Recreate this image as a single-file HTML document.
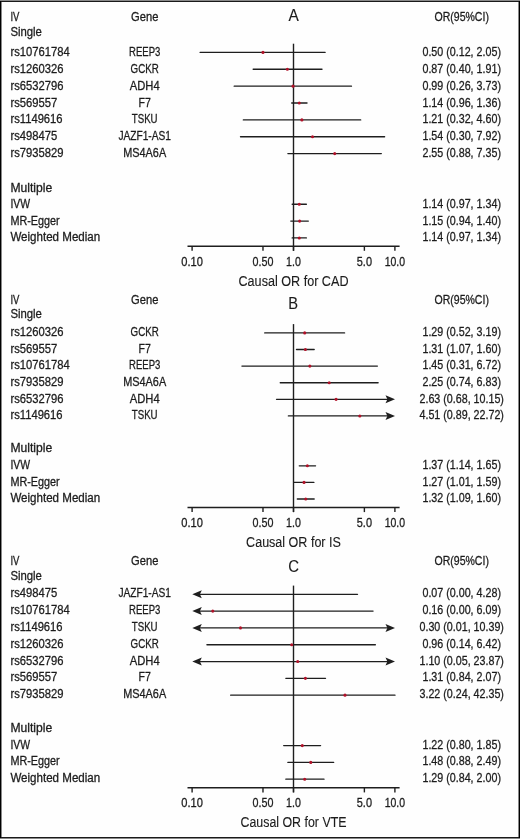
<!DOCTYPE html>
<html><head><meta charset="utf-8"><style>
html,body{margin:0;padding:0;background:#fff;}
body{width:520px;height:839px;overflow:hidden;}
svg{display:block;will-change:transform;}
svg text{font-family:"Liberation Sans",sans-serif;font-size:12.0px;stroke:#1c1c1c;stroke-width:0.28px;}
</style></head><body>
<svg width="520" height="839" viewBox="0 0 520 839">
<rect width="520" height="839" fill="#fefefe"/>
<text x="10.40" y="21.10" textLength="9.00" lengthAdjust="spacingAndGlyphs" fill="#1c1c1c">IV</text>
<text x="10.40" y="35.50" textLength="31.50" lengthAdjust="spacingAndGlyphs" fill="#1c1c1c">Single</text>
<text x="144.70" y="20.90" text-anchor="middle" textLength="27.30" lengthAdjust="spacingAndGlyphs" fill="#1c1c1c">Gene</text>
<text x="293.70" y="21.20" text-anchor="middle" style="font-size:17.0px;stroke-width:0.12px" textLength="10.30" lengthAdjust="spacingAndGlyphs" fill="#1c1c1c">A</text>
<text x="461.70" y="21.40" text-anchor="middle" textLength="54.40" lengthAdjust="spacingAndGlyphs" fill="#1c1c1c">OR(95%CI)</text>
<line x1="293.5" y1="43.70" x2="293.5" y2="250.80" stroke="#1e1e1e" stroke-width="1.4"/>
<text x="10.40" y="55.90" textLength="59.29" lengthAdjust="spacingAndGlyphs" fill="#1c1c1c">rs10761784</text>
<text x="144.70" y="55.90" text-anchor="middle" textLength="31.30" lengthAdjust="spacingAndGlyphs" fill="#1c1c1c">REEP3</text>
<text x="461.70" y="55.90" text-anchor="middle" textLength="78.49" lengthAdjust="spacingAndGlyphs" fill="#1c1c1c">0.50 (0.12, 2.05)</text>
<line x1="200.13" y1="52.40" x2="325.11" y2="52.40" stroke="#1e1e1e" stroke-width="1.3" stroke-linecap="round"/>
<circle cx="262.98" cy="52.40" r="1.55" fill="#b01229"/>
<text x="10.40" y="72.77" textLength="53.04" lengthAdjust="spacingAndGlyphs" fill="#1c1c1c">rs1260326</text>
<text x="144.70" y="72.77" text-anchor="middle" textLength="28.20" lengthAdjust="spacingAndGlyphs" fill="#1c1c1c">GCKR</text>
<text x="461.70" y="72.77" text-anchor="middle" textLength="78.49" lengthAdjust="spacingAndGlyphs" fill="#1c1c1c">0.87 (0.40, 1.91)</text>
<line x1="253.15" y1="69.27" x2="322.00" y2="69.27" stroke="#1e1e1e" stroke-width="1.3" stroke-linecap="round"/>
<circle cx="287.37" cy="69.27" r="1.55" fill="#b01229"/>
<text x="10.40" y="89.64" textLength="53.04" lengthAdjust="spacingAndGlyphs" fill="#1c1c1c">rs6532796</text>
<text x="144.70" y="89.64" text-anchor="middle" textLength="29.90" lengthAdjust="spacingAndGlyphs" fill="#1c1c1c">ADH4</text>
<text x="461.70" y="89.64" text-anchor="middle" textLength="78.49" lengthAdjust="spacingAndGlyphs" fill="#1c1c1c">0.99 (0.26, 3.73)</text>
<line x1="234.18" y1="86.14" x2="351.47" y2="86.14" stroke="#1e1e1e" stroke-width="1.3" stroke-linecap="round"/>
<circle cx="293.06" cy="86.14" r="1.55" fill="#b01229"/>
<text x="10.40" y="106.51" textLength="46.80" lengthAdjust="spacingAndGlyphs" fill="#1c1c1c">rs569557</text>
<text x="144.70" y="106.51" text-anchor="middle" textLength="12.30" lengthAdjust="spacingAndGlyphs" fill="#1c1c1c">F7</text>
<text x="461.70" y="106.51" text-anchor="middle" textLength="78.49" lengthAdjust="spacingAndGlyphs" fill="#1c1c1c">1.14 (0.96, 1.36)</text>
<line x1="291.70" y1="103.01" x2="307.04" y2="103.01" stroke="#1e1e1e" stroke-width="1.3" stroke-linecap="round"/>
<circle cx="299.27" cy="103.01" r="1.55" fill="#b01229"/>
<text x="10.40" y="123.38" textLength="52.21" lengthAdjust="spacingAndGlyphs" fill="#1c1c1c">rs1149616</text>
<text x="144.70" y="123.38" text-anchor="middle" textLength="25.80" lengthAdjust="spacingAndGlyphs" fill="#1c1c1c">TSKU</text>
<text x="461.70" y="123.38" text-anchor="middle" textLength="78.49" lengthAdjust="spacingAndGlyphs" fill="#1c1c1c">1.21 (0.32, 4.60)</text>
<line x1="243.32" y1="119.88" x2="360.70" y2="119.88" stroke="#1e1e1e" stroke-width="1.3" stroke-linecap="round"/>
<circle cx="301.89" cy="119.88" r="1.55" fill="#b01229"/>
<text x="10.40" y="140.25" textLength="46.80" lengthAdjust="spacingAndGlyphs" fill="#1c1c1c">rs498475</text>
<text x="144.70" y="140.25" text-anchor="middle" textLength="52.60" lengthAdjust="spacingAndGlyphs" fill="#1c1c1c">JAZF1-AS1</text>
<text x="461.70" y="140.25" text-anchor="middle" textLength="78.49" lengthAdjust="spacingAndGlyphs" fill="#1c1c1c">1.54 (0.30, 7.92)</text>
<line x1="240.48" y1="136.75" x2="384.63" y2="136.75" stroke="#1e1e1e" stroke-width="1.3" stroke-linecap="round"/>
<circle cx="312.51" cy="136.75" r="1.55" fill="#b01229"/>
<text x="10.40" y="157.12" textLength="53.04" lengthAdjust="spacingAndGlyphs" fill="#1c1c1c">rs7935829</text>
<text x="144.70" y="157.12" text-anchor="middle" textLength="42.90" lengthAdjust="spacingAndGlyphs" fill="#1c1c1c">MS4A6A</text>
<text x="461.70" y="157.12" text-anchor="middle" textLength="78.49" lengthAdjust="spacingAndGlyphs" fill="#1c1c1c">2.55 (0.88, 7.35)</text>
<line x1="287.87" y1="153.62" x2="381.34" y2="153.62" stroke="#1e1e1e" stroke-width="1.3" stroke-linecap="round"/>
<circle cx="334.72" cy="153.62" r="1.55" fill="#b01229"/>
<text x="10.40" y="192.06" textLength="41.80" lengthAdjust="spacingAndGlyphs" fill="#1c1c1c">Multiple</text>
<text x="10.40" y="207.73" textLength="19.70" lengthAdjust="spacingAndGlyphs" fill="#1c1c1c">IVW</text>
<text x="461.70" y="207.73" text-anchor="middle" textLength="78.49" lengthAdjust="spacingAndGlyphs" fill="#1c1c1c">1.14 (0.97, 1.34)</text>
<line x1="292.16" y1="204.23" x2="306.39" y2="204.23" stroke="#1e1e1e" stroke-width="1.3" stroke-linecap="round"/>
<circle cx="299.27" cy="204.23" r="1.55" fill="#b01229"/>
<text x="10.40" y="224.60" textLength="49.30" lengthAdjust="spacingAndGlyphs" fill="#1c1c1c">MR-Egger</text>
<text x="461.70" y="224.60" text-anchor="middle" textLength="78.49" lengthAdjust="spacingAndGlyphs" fill="#1c1c1c">1.15 (0.94, 1.40)</text>
<line x1="290.78" y1="221.10" x2="308.32" y2="221.10" stroke="#1e1e1e" stroke-width="1.3" stroke-linecap="round"/>
<circle cx="299.65" cy="221.10" r="1.55" fill="#b01229"/>
<text x="10.40" y="241.47" textLength="89.80" lengthAdjust="spacingAndGlyphs" fill="#1c1c1c">Weighted Median</text>
<text x="461.70" y="241.47" text-anchor="middle" textLength="78.49" lengthAdjust="spacingAndGlyphs" fill="#1c1c1c">1.14 (0.97, 1.34)</text>
<line x1="292.16" y1="237.97" x2="306.39" y2="237.97" stroke="#1e1e1e" stroke-width="1.3" stroke-linecap="round"/>
<circle cx="299.27" cy="237.97" r="1.55" fill="#b01229"/>
<line x1="187.5" y1="246.20" x2="399.6" y2="246.20" stroke="#1e1e1e" stroke-width="1.5"/>
<line x1="192.10" y1="246.20" x2="192.10" y2="250.80" stroke="#1e1e1e" stroke-width="1.4"/>
<text x="192.10" y="265.60" text-anchor="middle" textLength="21.60" lengthAdjust="spacingAndGlyphs" fill="#1c1c1c">0.10</text>
<line x1="262.98" y1="246.20" x2="262.98" y2="250.80" stroke="#1e1e1e" stroke-width="1.4"/>
<text x="262.98" y="265.60" text-anchor="middle" textLength="20.90" lengthAdjust="spacingAndGlyphs" fill="#1c1c1c">0.50</text>
<line x1="293.50" y1="246.20" x2="293.50" y2="250.80" stroke="#1e1e1e" stroke-width="1.4"/>
<text x="293.50" y="265.60" text-anchor="middle" textLength="14.80" lengthAdjust="spacingAndGlyphs" fill="#1c1c1c">1.0</text>
<line x1="364.38" y1="246.20" x2="364.38" y2="250.80" stroke="#1e1e1e" stroke-width="1.4"/>
<text x="364.38" y="265.60" text-anchor="middle" textLength="15.20" lengthAdjust="spacingAndGlyphs" fill="#1c1c1c">5.0</text>
<line x1="394.90" y1="246.20" x2="394.90" y2="250.80" stroke="#1e1e1e" stroke-width="1.4"/>
<text x="394.90" y="265.60" text-anchor="middle" textLength="20.40" lengthAdjust="spacingAndGlyphs" fill="#1c1c1c">10.0</text>
<text x="293.50" y="285.60" text-anchor="middle" style="font-size:14.0px;stroke-width:0.12px" textLength="110.00" lengthAdjust="spacingAndGlyphs" fill="#1c1c1c">Causal OR for CAD</text>
<text x="10.40" y="303.80" textLength="9.00" lengthAdjust="spacingAndGlyphs" fill="#1c1c1c">IV</text>
<text x="10.40" y="318.10" textLength="31.50" lengthAdjust="spacingAndGlyphs" fill="#1c1c1c">Single</text>
<text x="144.70" y="304.00" text-anchor="middle" textLength="27.30" lengthAdjust="spacingAndGlyphs" fill="#1c1c1c">Gene</text>
<text x="293.10" y="308.80" text-anchor="middle" style="font-size:17.0px;stroke-width:0.12px" textLength="9.80" lengthAdjust="spacingAndGlyphs" fill="#1c1c1c">B</text>
<text x="461.70" y="303.90" text-anchor="middle" textLength="54.40" lengthAdjust="spacingAndGlyphs" fill="#1c1c1c">OR(95%CI)</text>
<line x1="293.5" y1="324.10" x2="293.5" y2="512.10" stroke="#1e1e1e" stroke-width="1.4"/>
<text x="10.40" y="336.10" textLength="53.04" lengthAdjust="spacingAndGlyphs" fill="#1c1c1c">rs1260326</text>
<text x="144.70" y="336.10" text-anchor="middle" textLength="28.20" lengthAdjust="spacingAndGlyphs" fill="#1c1c1c">GCKR</text>
<text x="461.70" y="336.10" text-anchor="middle" textLength="78.49" lengthAdjust="spacingAndGlyphs" fill="#1c1c1c">1.29 (0.52, 3.19)</text>
<line x1="264.70" y1="332.90" x2="344.58" y2="332.90" stroke="#1e1e1e" stroke-width="1.3" stroke-linecap="round"/>
<circle cx="304.71" cy="332.90" r="1.55" fill="#b01229"/>
<text x="10.40" y="352.71" textLength="46.80" lengthAdjust="spacingAndGlyphs" fill="#1c1c1c">rs569557</text>
<text x="144.70" y="352.71" text-anchor="middle" textLength="12.30" lengthAdjust="spacingAndGlyphs" fill="#1c1c1c">F7</text>
<text x="461.70" y="352.71" text-anchor="middle" textLength="78.49" lengthAdjust="spacingAndGlyphs" fill="#1c1c1c">1.31 (1.07, 1.60)</text>
<line x1="296.48" y1="349.51" x2="314.20" y2="349.51" stroke="#1e1e1e" stroke-width="1.3" stroke-linecap="round"/>
<circle cx="305.39" cy="349.51" r="1.55" fill="#b01229"/>
<text x="10.40" y="369.32" textLength="59.29" lengthAdjust="spacingAndGlyphs" fill="#1c1c1c">rs10761784</text>
<text x="144.70" y="369.32" text-anchor="middle" textLength="31.30" lengthAdjust="spacingAndGlyphs" fill="#1c1c1c">REEP3</text>
<text x="461.70" y="369.32" text-anchor="middle" textLength="78.49" lengthAdjust="spacingAndGlyphs" fill="#1c1c1c">1.45 (0.31, 6.72)</text>
<line x1="241.92" y1="366.12" x2="377.40" y2="366.12" stroke="#1e1e1e" stroke-width="1.3" stroke-linecap="round"/>
<circle cx="309.86" cy="366.12" r="1.55" fill="#b01229"/>
<text x="10.40" y="385.93" textLength="53.04" lengthAdjust="spacingAndGlyphs" fill="#1c1c1c">rs7935829</text>
<text x="144.70" y="385.93" text-anchor="middle" textLength="42.90" lengthAdjust="spacingAndGlyphs" fill="#1c1c1c">MS4A6A</text>
<text x="461.70" y="385.93" text-anchor="middle" textLength="78.49" lengthAdjust="spacingAndGlyphs" fill="#1c1c1c">2.25 (0.74, 6.83)</text>
<line x1="280.24" y1="382.73" x2="378.11" y2="382.73" stroke="#1e1e1e" stroke-width="1.3" stroke-linecap="round"/>
<circle cx="329.21" cy="382.73" r="1.55" fill="#b01229"/>
<text x="10.40" y="402.54" textLength="53.04" lengthAdjust="spacingAndGlyphs" fill="#1c1c1c">rs6532796</text>
<text x="144.70" y="402.54" text-anchor="middle" textLength="29.90" lengthAdjust="spacingAndGlyphs" fill="#1c1c1c">ADH4</text>
<text x="461.70" y="402.54" text-anchor="middle" textLength="84.44" lengthAdjust="spacingAndGlyphs" fill="#1c1c1c">2.63 (0.68, 10.15)</text>
<line x1="276.52" y1="399.34" x2="388.00" y2="399.34" stroke="#1e1e1e" stroke-width="1.3" stroke-linecap="round"/>
<path d="M395.00 399.34 L385.50 395.34 L387.40 399.34 L385.50 403.34Z" fill="#1e1e1e"/>
<circle cx="336.08" cy="399.34" r="1.55" fill="#b01229"/>
<text x="10.40" y="419.15" textLength="52.21" lengthAdjust="spacingAndGlyphs" fill="#1c1c1c">rs1149616</text>
<text x="144.70" y="419.15" text-anchor="middle" textLength="25.80" lengthAdjust="spacingAndGlyphs" fill="#1c1c1c">TSKU</text>
<text x="461.70" y="419.15" text-anchor="middle" textLength="84.44" lengthAdjust="spacingAndGlyphs" fill="#1c1c1c">4.51 (0.89, 22.72)</text>
<line x1="288.37" y1="415.95" x2="388.00" y2="415.95" stroke="#1e1e1e" stroke-width="1.3" stroke-linecap="round"/>
<path d="M395.00 415.95 L385.50 411.95 L387.40 415.95 L385.50 419.95Z" fill="#1e1e1e"/>
<circle cx="359.83" cy="415.95" r="1.55" fill="#b01229"/>
<text x="10.40" y="452.37" textLength="41.80" lengthAdjust="spacingAndGlyphs" fill="#1c1c1c">Multiple</text>
<text x="10.40" y="468.98" textLength="19.70" lengthAdjust="spacingAndGlyphs" fill="#1c1c1c">IVW</text>
<text x="461.70" y="468.98" text-anchor="middle" textLength="78.49" lengthAdjust="spacingAndGlyphs" fill="#1c1c1c">1.37 (1.14, 1.65)</text>
<line x1="299.27" y1="465.78" x2="315.55" y2="465.78" stroke="#1e1e1e" stroke-width="1.3" stroke-linecap="round"/>
<circle cx="307.36" cy="465.78" r="1.55" fill="#b01229"/>
<text x="10.40" y="485.59" textLength="49.30" lengthAdjust="spacingAndGlyphs" fill="#1c1c1c">MR-Egger</text>
<text x="461.70" y="485.59" text-anchor="middle" textLength="78.49" lengthAdjust="spacingAndGlyphs" fill="#1c1c1c">1.27 (1.01, 1.59)</text>
<line x1="293.94" y1="482.39" x2="313.92" y2="482.39" stroke="#1e1e1e" stroke-width="1.3" stroke-linecap="round"/>
<circle cx="304.03" cy="482.39" r="1.55" fill="#b01229"/>
<text x="10.40" y="502.20" textLength="89.80" lengthAdjust="spacingAndGlyphs" fill="#1c1c1c">Weighted Median</text>
<text x="461.70" y="502.20" text-anchor="middle" textLength="78.49" lengthAdjust="spacingAndGlyphs" fill="#1c1c1c">1.32 (1.09, 1.60)</text>
<line x1="297.30" y1="499.00" x2="314.20" y2="499.00" stroke="#1e1e1e" stroke-width="1.3" stroke-linecap="round"/>
<circle cx="305.73" cy="499.00" r="1.55" fill="#b01229"/>
<line x1="187.5" y1="507.50" x2="399.6" y2="507.50" stroke="#1e1e1e" stroke-width="1.5"/>
<line x1="192.10" y1="507.50" x2="192.10" y2="512.10" stroke="#1e1e1e" stroke-width="1.4"/>
<text x="192.10" y="526.80" text-anchor="middle" textLength="21.60" lengthAdjust="spacingAndGlyphs" fill="#1c1c1c">0.10</text>
<line x1="262.98" y1="507.50" x2="262.98" y2="512.10" stroke="#1e1e1e" stroke-width="1.4"/>
<text x="262.98" y="526.80" text-anchor="middle" textLength="20.90" lengthAdjust="spacingAndGlyphs" fill="#1c1c1c">0.50</text>
<line x1="293.50" y1="507.50" x2="293.50" y2="512.10" stroke="#1e1e1e" stroke-width="1.4"/>
<text x="293.50" y="526.80" text-anchor="middle" textLength="14.80" lengthAdjust="spacingAndGlyphs" fill="#1c1c1c">1.0</text>
<line x1="364.38" y1="507.50" x2="364.38" y2="512.10" stroke="#1e1e1e" stroke-width="1.4"/>
<text x="364.38" y="526.80" text-anchor="middle" textLength="15.20" lengthAdjust="spacingAndGlyphs" fill="#1c1c1c">5.0</text>
<line x1="394.90" y1="507.50" x2="394.90" y2="512.10" stroke="#1e1e1e" stroke-width="1.4"/>
<text x="394.90" y="526.80" text-anchor="middle" textLength="20.40" lengthAdjust="spacingAndGlyphs" fill="#1c1c1c">10.0</text>
<text x="293.50" y="546.90" text-anchor="middle" style="font-size:14.0px;stroke-width:0.12px" textLength="94.80" lengthAdjust="spacingAndGlyphs" fill="#1c1c1c">Causal OR for IS</text>
<text x="10.40" y="565.00" textLength="9.00" lengthAdjust="spacingAndGlyphs" fill="#1c1c1c">IV</text>
<text x="10.40" y="579.60" textLength="31.50" lengthAdjust="spacingAndGlyphs" fill="#1c1c1c">Single</text>
<text x="144.70" y="565.20" text-anchor="middle" textLength="27.30" lengthAdjust="spacingAndGlyphs" fill="#1c1c1c">Gene</text>
<text x="293.70" y="571.70" text-anchor="middle" style="font-size:17.0px;stroke-width:0.12px" textLength="10.80" lengthAdjust="spacingAndGlyphs" fill="#1c1c1c">C</text>
<text x="461.70" y="565.00" text-anchor="middle" textLength="54.40" lengthAdjust="spacingAndGlyphs" fill="#1c1c1c">OR(95%CI)</text>
<line x1="293.5" y1="585.60" x2="293.5" y2="792.40" stroke="#1e1e1e" stroke-width="1.4"/>
<text x="10.40" y="597.30" textLength="46.80" lengthAdjust="spacingAndGlyphs" fill="#1c1c1c">rs498475</text>
<text x="144.70" y="597.30" text-anchor="middle" textLength="52.60" lengthAdjust="spacingAndGlyphs" fill="#1c1c1c">JAZF1-AS1</text>
<text x="461.70" y="597.30" text-anchor="middle" textLength="78.49" lengthAdjust="spacingAndGlyphs" fill="#1c1c1c">0.07 (0.00, 4.28)</text>
<line x1="199.30" y1="594.30" x2="357.53" y2="594.30" stroke="#1e1e1e" stroke-width="1.3" stroke-linecap="round"/>
<path d="M192.30 594.30 L201.80 590.30 L199.90 594.30 L201.80 598.30Z" fill="#1e1e1e"/>
<text x="10.40" y="614.11" textLength="59.29" lengthAdjust="spacingAndGlyphs" fill="#1c1c1c">rs10761784</text>
<text x="144.70" y="614.11" text-anchor="middle" textLength="31.30" lengthAdjust="spacingAndGlyphs" fill="#1c1c1c">REEP3</text>
<text x="461.70" y="614.11" text-anchor="middle" textLength="78.49" lengthAdjust="spacingAndGlyphs" fill="#1c1c1c">0.16 (0.00, 6.09)</text>
<line x1="199.30" y1="611.11" x2="373.06" y2="611.11" stroke="#1e1e1e" stroke-width="1.3" stroke-linecap="round"/>
<path d="M192.30 611.11 L201.80 607.11 L199.90 611.11 L201.80 615.11Z" fill="#1e1e1e"/>
<circle cx="212.80" cy="611.11" r="1.55" fill="#b01229"/>
<text x="10.40" y="630.92" textLength="52.21" lengthAdjust="spacingAndGlyphs" fill="#1c1c1c">rs1149616</text>
<text x="144.70" y="630.92" text-anchor="middle" textLength="25.80" lengthAdjust="spacingAndGlyphs" fill="#1c1c1c">TSKU</text>
<text x="461.70" y="630.92" text-anchor="middle" textLength="84.44" lengthAdjust="spacingAndGlyphs" fill="#1c1c1c">0.30 (0.01, 10.39)</text>
<line x1="199.30" y1="627.92" x2="388.00" y2="627.92" stroke="#1e1e1e" stroke-width="1.3" stroke-linecap="round"/>
<path d="M192.30 627.92 L201.80 623.92 L199.90 627.92 L201.80 631.92Z" fill="#1e1e1e"/>
<path d="M395.00 627.92 L385.50 623.92 L387.40 627.92 L385.50 631.92Z" fill="#1e1e1e"/>
<circle cx="240.48" cy="627.92" r="1.55" fill="#b01229"/>
<text x="10.40" y="647.73" textLength="53.04" lengthAdjust="spacingAndGlyphs" fill="#1c1c1c">rs1260326</text>
<text x="144.70" y="647.73" text-anchor="middle" textLength="28.20" lengthAdjust="spacingAndGlyphs" fill="#1c1c1c">GCKR</text>
<text x="461.70" y="647.73" text-anchor="middle" textLength="78.49" lengthAdjust="spacingAndGlyphs" fill="#1c1c1c">0.96 (0.14, 6.42)</text>
<line x1="206.92" y1="644.73" x2="375.38" y2="644.73" stroke="#1e1e1e" stroke-width="1.3" stroke-linecap="round"/>
<circle cx="291.70" cy="644.73" r="1.55" fill="#b01229"/>
<text x="10.40" y="664.54" textLength="53.04" lengthAdjust="spacingAndGlyphs" fill="#1c1c1c">rs6532796</text>
<text x="144.70" y="664.54" text-anchor="middle" textLength="29.90" lengthAdjust="spacingAndGlyphs" fill="#1c1c1c">ADH4</text>
<text x="461.70" y="664.54" text-anchor="middle" textLength="84.44" lengthAdjust="spacingAndGlyphs" fill="#1c1c1c">1.10 (0.05, 23.87)</text>
<line x1="199.30" y1="661.54" x2="388.00" y2="661.54" stroke="#1e1e1e" stroke-width="1.3" stroke-linecap="round"/>
<path d="M192.30 661.54 L201.80 657.54 L199.90 661.54 L201.80 665.54Z" fill="#1e1e1e"/>
<path d="M395.00 661.54 L385.50 657.54 L387.40 661.54 L385.50 665.54Z" fill="#1e1e1e"/>
<circle cx="297.70" cy="661.54" r="1.55" fill="#b01229"/>
<text x="10.40" y="681.35" textLength="46.80" lengthAdjust="spacingAndGlyphs" fill="#1c1c1c">rs569557</text>
<text x="144.70" y="681.35" text-anchor="middle" textLength="12.30" lengthAdjust="spacingAndGlyphs" fill="#1c1c1c">F7</text>
<text x="461.70" y="681.35" text-anchor="middle" textLength="78.49" lengthAdjust="spacingAndGlyphs" fill="#1c1c1c">1.31 (0.84, 2.07)</text>
<line x1="285.82" y1="678.35" x2="325.54" y2="678.35" stroke="#1e1e1e" stroke-width="1.3" stroke-linecap="round"/>
<circle cx="305.39" cy="678.35" r="1.55" fill="#b01229"/>
<text x="10.40" y="698.16" textLength="53.04" lengthAdjust="spacingAndGlyphs" fill="#1c1c1c">rs7935829</text>
<text x="144.70" y="698.16" text-anchor="middle" textLength="42.90" lengthAdjust="spacingAndGlyphs" fill="#1c1c1c">MS4A6A</text>
<text x="461.70" y="698.16" text-anchor="middle" textLength="84.44" lengthAdjust="spacingAndGlyphs" fill="#1c1c1c">3.22 (0.24, 42.35)</text>
<line x1="230.65" y1="695.16" x2="395.00" y2="695.16" stroke="#1e1e1e" stroke-width="1.3" stroke-linecap="round"/>
<circle cx="345.00" cy="695.16" r="1.55" fill="#b01229"/>
<text x="10.40" y="731.78" textLength="41.80" lengthAdjust="spacingAndGlyphs" fill="#1c1c1c">Multiple</text>
<text x="10.40" y="748.59" textLength="19.70" lengthAdjust="spacingAndGlyphs" fill="#1c1c1c">IVW</text>
<text x="461.70" y="748.59" text-anchor="middle" textLength="78.49" lengthAdjust="spacingAndGlyphs" fill="#1c1c1c">1.22 (0.80, 1.85)</text>
<line x1="283.67" y1="745.59" x2="320.59" y2="745.59" stroke="#1e1e1e" stroke-width="1.3" stroke-linecap="round"/>
<circle cx="302.26" cy="745.59" r="1.55" fill="#b01229"/>
<text x="10.40" y="765.40" textLength="49.30" lengthAdjust="spacingAndGlyphs" fill="#1c1c1c">MR-Egger</text>
<text x="461.70" y="765.40" text-anchor="middle" textLength="78.49" lengthAdjust="spacingAndGlyphs" fill="#1c1c1c">1.48 (0.88, 2.49)</text>
<line x1="287.87" y1="762.40" x2="333.67" y2="762.40" stroke="#1e1e1e" stroke-width="1.3" stroke-linecap="round"/>
<circle cx="310.76" cy="762.40" r="1.55" fill="#b01229"/>
<text x="10.40" y="782.21" textLength="89.80" lengthAdjust="spacingAndGlyphs" fill="#1c1c1c">Weighted Median</text>
<text x="461.70" y="782.21" text-anchor="middle" textLength="78.49" lengthAdjust="spacingAndGlyphs" fill="#1c1c1c">1.29 (0.84, 2.00)</text>
<line x1="285.82" y1="779.21" x2="324.02" y2="779.21" stroke="#1e1e1e" stroke-width="1.3" stroke-linecap="round"/>
<circle cx="304.71" cy="779.21" r="1.55" fill="#b01229"/>
<line x1="187.5" y1="787.80" x2="399.6" y2="787.80" stroke="#1e1e1e" stroke-width="1.5"/>
<line x1="192.10" y1="787.80" x2="192.10" y2="792.40" stroke="#1e1e1e" stroke-width="1.4"/>
<text x="192.10" y="807.30" text-anchor="middle" textLength="21.60" lengthAdjust="spacingAndGlyphs" fill="#1c1c1c">0.10</text>
<line x1="262.98" y1="787.80" x2="262.98" y2="792.40" stroke="#1e1e1e" stroke-width="1.4"/>
<text x="262.98" y="807.30" text-anchor="middle" textLength="20.90" lengthAdjust="spacingAndGlyphs" fill="#1c1c1c">0.50</text>
<line x1="293.50" y1="787.80" x2="293.50" y2="792.40" stroke="#1e1e1e" stroke-width="1.4"/>
<text x="293.50" y="807.30" text-anchor="middle" textLength="14.80" lengthAdjust="spacingAndGlyphs" fill="#1c1c1c">1.0</text>
<line x1="364.38" y1="787.80" x2="364.38" y2="792.40" stroke="#1e1e1e" stroke-width="1.4"/>
<text x="364.38" y="807.30" text-anchor="middle" textLength="15.20" lengthAdjust="spacingAndGlyphs" fill="#1c1c1c">5.0</text>
<line x1="394.90" y1="787.80" x2="394.90" y2="792.40" stroke="#1e1e1e" stroke-width="1.4"/>
<text x="394.90" y="807.30" text-anchor="middle" textLength="20.40" lengthAdjust="spacingAndGlyphs" fill="#1c1c1c">10.0</text>
<text x="293.50" y="827.00" text-anchor="middle" style="font-size:14.0px;stroke-width:0.12px" textLength="106.00" lengthAdjust="spacingAndGlyphs" fill="#1c1c1c">Causal OR for VTE</text>
<rect x="0" y="0" width="520" height="1" fill="#8a8a8a"/>
<rect x="0" y="1" width="520" height="1" fill="#1a1a1a"/>
<rect x="0" y="838" width="520" height="1" fill="#888"/>
<rect x="0" y="837" width="520" height="1" fill="#1a1a1a"/>
<rect x="0" y="1" width="1" height="837" fill="#000"/>
<rect x="1" y="2" width="1" height="835" fill="#888"/>
<rect x="519" y="1" width="1" height="837" fill="#000"/>
<rect x="518" y="2" width="1" height="835" fill="#888"/>
</svg>
</body></html>
